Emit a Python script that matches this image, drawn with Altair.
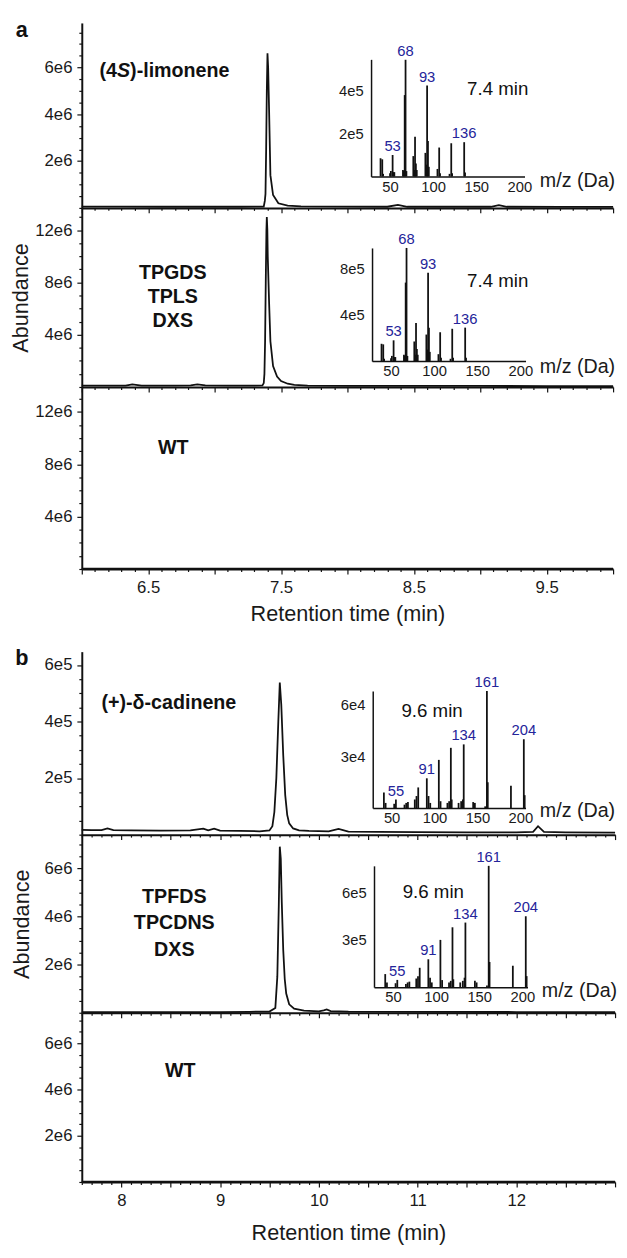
import altair as alt
import pandas as pd

FONT = "Liberation Sans"
INK = "#111111"
BLUE = "#24249a"

# ---------------- chromatogram traces (retention time in min, abundance) ----------------
a1_time = [6.0, 6.3, 6.6, 6.9, 7.2, 7.37, 7.378, 7.383, 7.388, 7.393, 7.398, 7.403, 7.41, 7.42,
           7.44, 7.48, 7.55, 7.65, 8.0, 8.3, 8.38, 8.45, 8.8, 9.08, 9.14, 9.2, 9.6, 10.0]
a1_abund = [0.06e6, 0.06e6, 0.05e6, 0.05e6, 0.05e6, 0.06e6, 0.3e6, 0.6e6, 2.5e6, 5.0e6, 6.6e6, 6.0e6,
            4.2e6, 1.4e6, 0.55e6, 0.2e6, 0.1e6, 0.07e6, 0.06e6, 0.05e6, 0.13e6, 0.05e6, 0.05e6,
            0.05e6, 0.12e6, 0.05e6, 0.04e6, 0.04e6]

a2_time = [6.0, 6.2, 6.33, 6.38, 6.45, 6.7, 6.82, 6.87, 6.93, 7.1, 7.3, 7.36, 7.37, 7.375, 7.38,
           7.385, 7.39, 7.393, 7.397, 7.40, 7.41, 7.42, 7.44, 7.47, 7.50, 7.55, 7.60, 7.70, 8.0,
           8.5, 9.0, 9.5, 10.0]
a2_abund = [0.10e6, 0.10e6, 0.11e6, 0.2e6, 0.11e6, 0.11e6, 0.12e6, 0.2e6, 0.12e6, 0.11e6, 0.11e6,
            0.12e6, 0.3e6, 1.0e6, 3.5e6, 8.0e6, 12.0e6, 13.0e6, 12.0e6, 10.0e6, 6.5e6, 3.5e6,
            1.6e6, 0.8e6, 0.45e6, 0.25e6, 0.16e6, 0.11e6, 0.09e6, 0.08e6, 0.08e6, 0.07e6, 0.07e6]

a3_time = [6.0, 7.0, 8.0, 9.0, 10.0]
a3_abund = [0.03e6, 0.03e6, 0.03e6, 0.03e6, 0.03e6]

b1_time = [7.6, 7.7, 7.8, 7.86, 7.92, 8.1, 8.4, 8.7, 8.83, 8.88, 8.94, 9.0, 9.2, 9.4, 9.5,
           9.53, 9.55, 9.57, 9.59, 9.605, 9.62, 9.64, 9.66, 9.68, 9.70, 9.74, 9.8, 9.9, 10.1,
           10.2, 10.3, 10.6, 11.0, 11.5, 12.0, 12.17, 12.22, 12.28, 12.5, 13.0]
b1_abund = [0.17e5, 0.16e5, 0.16e5, 0.22e5, 0.16e5, 0.15e5, 0.14e5, 0.15e5, 0.21e5, 0.15e5,
            0.21e5, 0.14e5, 0.13e5, 0.12e5, 0.15e5, 0.3e5, 0.8e5, 2.0e5, 4.0e5, 5.38e5, 4.6e5,
            2.8e5, 1.4e5, 0.7e5, 0.4e5, 0.22e5, 0.15e5, 0.13e5, 0.12e5, 0.2e5, 0.11e5, 0.1e5,
            0.09e5, 0.08e5, 0.08e5, 0.1e5, 0.3e5, 0.1e5, 0.08e5, 0.07e5]

b2_time = [7.6, 8.0, 8.5, 9.0, 9.3, 9.5, 9.56, 9.58, 9.595, 9.605, 9.615, 9.625, 9.64, 9.655,
           9.67, 9.70, 9.75, 9.85, 10.0, 10.05, 10.08, 10.12, 10.3, 11.0, 12.0, 13.0]
b2_abund = [0.03e6, 0.03e6, 0.03e6, 0.03e6, 0.04e6, 0.05e6, 0.2e6, 1.5e6, 4.5e6, 6.9e6, 6.4e6,
            4.6e6, 2.6e6, 1.4e6, 0.8e6, 0.35e6, 0.17e6, 0.09e6, 0.06e6, 0.1e6, 0.14e6, 0.07e6,
            0.05e6, 0.04e6, 0.03e6, 0.03e6]

b3_time = [7.6, 9.0, 10.5, 12.0, 13.0]
b3_abund = [0.02e6, 0.02e6, 0.02e6, 0.02e6, 0.02e6]

# ---------------- mass spectra (m/z, intensity) ----------------
limonene_mz = [39, 41, 42, 50, 51, 53, 54, 55, 65, 66, 67, 68, 69, 77, 78, 79, 80, 81, 91, 92,
               93, 94, 95, 105, 107, 108, 119, 121, 122, 136, 137]
a1_ms = [0.85e5, 0.80e5, 0.12e5, 0.15e5, 0.25e5, 1.0e5, 0.2e5, 0.2e5, 0.3e5, 0.25e5, 3.8e5, 5.45e5,
         0.25e5, 0.95e5, 0.3e5, 1.85e5, 0.6e5, 0.3e5, 1.1e5, 0.55e5, 4.25e5, 1.65e5, 0.45e5,
         0.35e5, 1.35e5, 0.15e5, 0.12e5, 1.55e5, 0.15e5, 1.6e5, 0.18e5]
a2_ms = [1.5e5, 1.45e5, 0.2e5, 0.25e5, 0.45e5, 1.8e5, 0.35e5, 0.35e5, 0.55e5, 0.45e5, 6.8e5, 9.8e5,
         0.45e5, 1.7e5, 0.55e5, 3.3e5, 1.05e5, 0.55e5, 2.3e5, 1.0e5, 7.66e5, 2.9e5, 0.8e5,
         0.6e5, 2.5e5, 0.3e5, 0.2e5, 2.8e5, 0.3e5, 2.9e5, 0.3e5]
limonene_labels = [53, 68, 93, 136]

cadinene_mz = [41, 43, 53, 55, 65, 67, 69, 77, 79, 81, 91, 93, 95, 105, 107, 115, 117, 119, 120,
               128, 131, 133, 134, 145, 147, 159, 161, 162, 189, 204, 205]
b1_ms = [0.9e4, 0.3e4, 0.25e4, 0.5e4, 0.2e4, 0.3e4, 0.35e4, 0.5e4, 0.7e4, 1.2e4, 1.73e4, 0.7e4,
         0.3e4, 2.8e4, 0.4e4, 0.3e4, 0.4e4, 3.5e4, 0.5e4, 0.3e4, 0.4e4, 0.5e4, 3.7e4, 0.35e4,
         0.3e4, 0.1e4, 6.8e4, 1.5e4, 1.3e4, 4.0e4, 0.75e4]
b2_ms = [0.83e5, 0.3e5, 0.25e5, 0.46e5, 0.2e5, 0.3e5, 0.35e5, 0.55e5, 0.7e5, 1.23e5, 1.77e5, 0.6e5,
         0.3e5, 3.0e5, 0.45e5, 0.3e5, 0.4e5, 3.8e5, 0.5e5, 0.3e5, 0.4e5, 0.6e5, 4.1e5, 0.4e5,
         0.3e5, 0.1e5, 7.7e5, 1.6e5, 1.36e5, 4.5e5, 0.7e5]
cadinene_labels = [55, 91, 134, 161, 204]

# ---------------- axis ticks / labels ----------------
a_time_ticks = [round(6.0 + 0.1 * i, 1) for i in range(41)]
a_time_labels = [6.5, 7.5, 8.5, 9.5]
b_time_ticks = [round(7.6 + 0.1 * i, 1) for i in range(55)]
b_time_labels = [8, 9, 10, 11, 12]
a1_y_ticks = list(range(0, 7_500_001, 500_000))
a1_y_labels = [2_000_000, 4_000_000, 6_000_000]
a23_y_ticks = list(range(0, 13_000_001, 1_000_000))
a23_y_labels = [4_000_000, 8_000_000, 12_000_000]
b1_y_ticks = list(range(0, 600_001, 50_000))
b1_y_labels = [200_000, 400_000, 600_000]
b23_y_ticks = list(range(0, 7_000_001, 500_000))
b23_y_labels = [2_000_000, 4_000_000, 6_000_000]
mz_ticks = [50, 100, 150, 200]
MZ_DOMAIN = [28, 206]


def time_axis(ticks, labeled, fmt, show, title_pad=8):
    test = "abs(datum.value*2 - round(datum.value*2)) < 0.01"
    kw = dict(values=ticks,
              tickSize={"condition": {"test": test, "value": 5}, "value": 2.5},
              tickWidth=1.2, domainWidth=2, labelOverlap=False, labelFlush=False,
              labelFontSize=17, labelPadding=6)
    if show:
        kw.update(labelExpr=f"indexof({labeled}, round(datum.value*10)/10) >= 0 ? format(datum.value, '{fmt}') : ''",
                  title="Retention time (min)", titleFontSize=22, titlePadding=title_pad,
                  titleFontWeight="normal")
    else:
        kw.update(labels=False, title=None)
    return alt.Axis(**kw)


def abund_axis(ticks, labeled, div, suf, title=None, title_pad=4):
    test = f"indexof({labeled}, datum.value) >= 0"
    kw = dict(values=ticks,
              labelExpr=f"{test} ? (datum.value/{div}) + '{suf}' : ''",
              tickSize={"condition": {"test": test, "value": 5}, "value": 3},
              tickWidth=1.2, domainWidth=2, labelOverlap=False, labelFlush=False,
              labelFontSize=17, labelPadding=5, title=title)
    if title:
        kw.update(titleFontSize=22, titlePadding=title_pad, titleFontWeight="normal")
    return alt.Axis(**kw)


def note(text, x, y, size=20, weight="bold", style="normal", align="left",
         baseline="middle", color=INK, line_height=None):
    kw = dict(fontSize=size, fontWeight=weight, fontStyle=style, align=align,
              baseline=baseline, color=color, font=FONT)
    if line_height:
        kw.update(lineBreak="\n", lineHeight=line_height)
    return alt.Chart(pd.DataFrame({"label": [text]})).mark_text(**kw).encode(
        x=alt.value(x), y=alt.value(y), text="label:N")


def inset(mz, inten, labels, H, x0, x1, ybase, ytop, ymax, yticks, ydiv, ysuf, title_x, title_dy):
    df = pd.DataFrame({"mz": mz, "i": inten})
    df["lab"] = [str(m) if m in labels else "" for m in mz]
    xs = alt.Scale(domain=MZ_DOMAIN, range=[x0, x1], nice=False, zero=False)
    ys = alt.Scale(domain=[0, ymax], range=[ybase, ytop], nice=False, zero=False)
    xa = alt.Axis(orient="bottom", offset=ybase - H, values=mz_ticks, ticks=False, tickSize=0,
                  domainWidth=1.5, labelFontSize=15, labelPadding=3, labelFlush=False,
                  labelOverlap=False, title="m/z (Da)", titleFontSize=20,
                  titleFontWeight="normal", titleX=title_x, titleY=title_dy,
                  titleAlign="left", titleBaseline="middle", titleAngle=0)
    ya = alt.Axis(orient="left", offset=-x0, values=yticks,
                  labelExpr=f"(datum.value/{ydiv}) + '{ysuf}'", ticks=False, tickSize=0,
                  domainWidth=1.5, labelFontSize=15, labelPadding=8, labelOverlap=False,
                  labelFlush=False, title=None)
    X = alt.X("mz:Q", scale=xs, axis=xa)
    Y = alt.Y("i:Q", scale=ys, axis=ya)
    rules = alt.Chart(df).mark_rule(color=INK, strokeWidth=1.8).encode(x=X, y=Y, y2=alt.datum(0))
    labs = alt.Chart(df).transform_filter("datum.lab != ''").mark_text(
        color=BLUE, fontSize=15, dy=-9, baseline="middle", font=FONT).encode(x=X, y=Y, text="lab:N")
    return alt.layer(rules, labs)


def panel(times, abund, xdom, ydom, W, H, xaxis, yaxis, notes, ins=None):
    df = pd.DataFrame({"t": times, "v": abund})
    line = alt.Chart(df).mark_line(color=INK, strokeWidth=1.8).encode(
        x=alt.X("t:Q", scale=alt.Scale(domain=xdom, nice=False, zero=False), axis=xaxis),
        y=alt.Y("v:Q", scale=alt.Scale(domain=ydom, nice=False, zero=False), axis=yaxis),
    )
    main = alt.layer(line, *notes)
    if ins is None:
        return main.properties(width=W, height=H)
    return alt.layer(main, ins).resolve_scale(x="independent", y="independent").properties(
        width=W, height=H)


WA, WB = 540, 542
HA = [188, 182, 185]
HB = [186, 181, 172]

a1 = panel(a1_time, a1_abund, [6, 10], [0, 7.9e6], WA, HA[0],
           time_axis(a_time_ticks, a_time_labels, ".1f", False),
           abund_axis(a1_y_ticks, a1_y_labels, 1000000, "e6"),
           [note("a", -61, 14, size=22, align="center", baseline="alphabetic"),
            note("(4", 18, 49), note("S", 35.8, 49, style="italic"), note(")-limonene", 49.1, 49),
            note("7.4 min", 422.7, 67, size=19, weight="normal", align="center")],
           inset(limonene_mz, a1_ms, limonene_labels, HA[0], 294, 450, 156, 37, 5.47e5,
                 [200000, 400000], 100000, "e5", 465, 4))

a2 = panel(a2_time, a2_abund, [6, 10], [0, 13.7e6], WA, HA[1],
           time_axis(a_time_ticks, a_time_labels, ".1f", False),
           abund_axis(a23_y_ticks, a23_y_labels, 1000000, "e6", title="Abundance", title_pad=2),
           [note("TPGDS\nTPLS\nDXS", 92.5, 66, align="center", line_height=24.5),
            note("7.4 min", 422.7, 74, size=19, weight="normal", align="center")],
           inset(limonene_mz, a2_ms, limonene_labels, HA[1], 295, 451, 155.7, 40.7, 9.8e5,
                 [400000, 800000], 100000, "e5", 465, 6))

a3 = panel(a3_time, a3_abund, [6, 10], [0, 13.9e6], WA, HA[2],
           time_axis(a_time_ticks, a_time_labels, ".1f", True, title_pad=8),
           abund_axis(a23_y_ticks, a23_y_labels, 1000000, "e6"),
           [note("WT", 93, 62, align="center")])

b1 = panel(b1_time, b1_abund, [7.6, 13.0], [0, 6.47e5], WB, HB[0],
           time_axis(b_time_ticks, b_time_labels, "d", False),
           abund_axis(b1_y_ticks, b1_y_labels, 100000, "e5"),
           [note("b", -61, 14, size=22, align="center", baseline="alphabetic"),
            note("(+)-δ-cadinene", 20, 52),
            note("9.6 min", 356, 60, size=19, weight="normal", align="center")],
           inset(cadinene_mz, b1_ms, cadinene_labels, HB[0], 295.7, 451, 159, 40, 6.8e4,
                 [30000, 60000], 10000, "e4", 465, 3))

b2 = panel(b2_time, b2_abund, [7.6, 13.0], [0, 7.4e6], WB, HB[1],
           time_axis(b_time_ticks, b_time_labels, "d", False),
           abund_axis(b23_y_ticks, b23_y_labels, 1000000, "e6", title="Abundance", title_pad=11),
           [note("TPFDS\nTPCDNS\nDXS", 94, 63, align="center", line_height=27),
            note("9.6 min", 357.3, 58.3, size=19, weight="normal", align="center")],
           inset(cadinene_mz, b2_ms, cadinene_labels, HB[1], 297, 453, 155, 31.7, 7.7e5,
                 [300000, 600000], 100000, "e5", 467, 4))

b3 = panel(b3_time, b3_abund, [7.6, 13.0], [0, 7.32e6], WB, HB[2],
           time_axis(b_time_ticks, b_time_labels, "d", True, title_pad=14),
           abund_axis(b23_y_ticks, b23_y_labels, 1000000, "e6"),
           [note("WT", 100, 59, align="center")])

top = alt.vconcat(a1, a2, a3, spacing=0, bounds="flush")
bottom = alt.vconcat(b1, b2, b3, spacing=0, bounds="flush")

chart = alt.vconcat(top, bottom, spacing=24).properties(
    padding={"left": 2, "top": 1, "right": 0, "bottom": 0}
).configure_view(stroke=None).configure_axis(
    labelFont=FONT, titleFont=FONT, labelColor="#1a1a1a", titleColor="#1a1a1a",
    domainColor=INK, tickColor=INK, grid=False
)

chart.save("out.html", embed_options={"renderer": "svg", "actions": False})
